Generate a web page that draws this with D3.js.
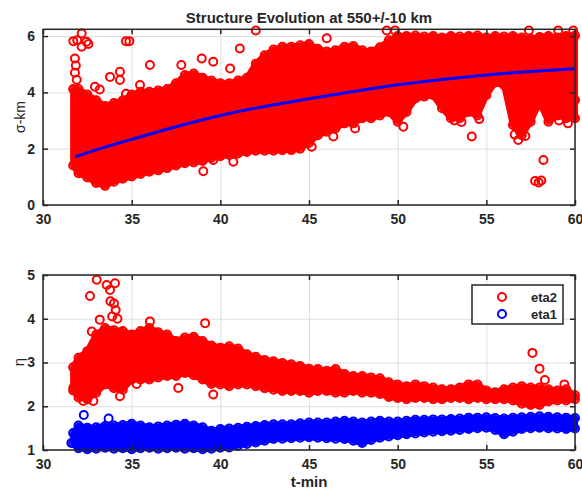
<!DOCTYPE html>
<html>
<head>
<meta charset="utf-8">
<script src="https://cdn.jsdelivr.net/npm/d3@7"></script>
<style>
  body { margin: 0; background: #fff; }
  svg text { font-family: "Liberation Sans", Arial, sans-serif; fill: #262626; }
  .grid line { stroke: #dedede; stroke-width: 1; }
  .grid path { display: none; }
  .frame path, .frame line { stroke: #262626; stroke-width: 1.5; }
  .frame text { font-size: 14px; font-weight: bold; }
</style>
</head>
<body>
<svg id="chart" width="582" height="494"></svg>
<script>
// time samples (minutes) at which the edges of the dense point clouds were read
var tGrid = [31.7, 32, 32.5, 33, 33.5, 34, 34.5, 35, 35.5, 36, 36.5, 37, 37.5, 38, 38.5, 39, 39.5,
  40, 40.5, 41, 41.5, 42, 42.5, 43, 43.5, 44, 44.5, 45, 45.5, 46, 46.5, 47, 47.5, 48, 48.5, 49, 49.5,
  50, 50.5, 51, 51.5, 52, 52.5, 53, 53.5, 54, 54.5, 55, 55.5, 56, 56.5, 57, 57.5, 58, 58.5, 59, 59.5, 60];

// sigma (km): upper and lower edge points of the red cloud
var sigmaHi = [4.12, 4.12, 3.92, 3.72, 3.52, 3.62, 3.72, 3.92, 4.02, 4.02, 4.07, 4.12, 4.32, 4.62, 4.67, 4.52, 4.42,
  4.32, 4.32, 4.42, 4.52, 5.02, 5.32, 5.52, 5.62, 5.62, 5.67, 5.72, 5.55, 5.45, 5.5, 5.62, 5.65, 5.5, 5.45, 5.6, 5.85,
  6.0, 6.0, 6.02, 5.98, 6.0, 5.95, 6.0, 5.98, 6.0, 6.02, 5.95, 6.0, 5.98, 6.0, 5.95, 5.9, 5.97, 6.0, 5.95, 6.0, 6.02];
var sigmaLo = [1.4, 1.13, 0.98, 0.78, 0.68, 0.83, 0.93, 1.01, 1.1, 1.18, 1.23, 1.31, 1.4, 1.48, 1.51, 1.56, 1.68,
  1.73, 1.78, 1.83, 1.88, 1.93, 1.93, 1.93, 1.95, 1.95, 2.0, 2.2, 2.48, 2.6, 2.73, 2.9, 2.9, 3.08, 3.08, 3.18, 3.3,
  2.96, 3.3, 3.78, 3.85, 3.9, 3.44, 3.08, 3.08, 3.3, 3.18, 3.9, 4.35, 4.25, 2.84, 2.48, 2.96, 3.66, 2.96, 3.18, 3.08, 3.08];
// sigma points lying away from the cloud [t, sigma]
var sigmaOut = [[31.71, 5.82], [31.93, 5.85], [32.18, 6.09], [32.18, 5.62], [32.45, 5.8], [32.56, 5.72],
  [34.68, 5.82], [34.87, 5.82], [36.03, 4.97], [31.8, 5.2], [31.85, 4.95], [31.8, 4.7], [31.9, 4.45],
  [33.78, 4.55], [34.34, 4.73], [34.34, 4.44], [34.68, 3.95], [35.47, 4.26], [32.93, 4.2], [33.2, 4.1],
  [37.8, 4.97], [38.95, 5.2], [39.6, 5.09], [40.55, 4.85], [41.1, 5.56], [42.0, 6.2],
  [39.04, 1.2], [39.6, 1.6], [40.73, 1.54], [46.0, 5.92], [49.38, 6.2], [49.85, 6.2],
  [54.18, 2.43], [56.8, 2.31], [58.22, 1.6], [57.75, 0.85], [57.95, 0.8], [58.1, 0.87],
  [45.15, 2.07], [46.37, 2.43], [47.6, 2.72], [50.32, 2.78], [53.2, 3.0], [53.6, 2.95], [54.6, 3.05],
  [59.1, 3.0], [59.6, 2.9], [60, 3.73], [59.9, 6.2], [59.05, 6.2], [57.4, 6.2], [56.6, 2.5], [56.9, 2.6], [57.2, 2.45]];

// fitted trend of sigma
var fitT = [31.8, 33, 35, 37.5, 40, 42.5, 45, 47.5, 50, 52.5, 55, 57.5, 60];
var fitV = [1.71, 1.96, 2.33, 2.78, 3.18, 3.5, 3.77, 4.03, 4.27, 4.46, 4.62, 4.74, 4.84];

// eta2 / eta1 edge points
var eta2Hi = [2.89, 3.11, 3.26, 3.64, 3.79, 3.74, 3.72, 3.64, 3.72, 3.79, 3.69, 3.64, 3.49, 3.57, 3.59, 3.49, 3.39,
  3.34, 3.37, 3.32, 3.19, 3.13, 3.06, 3.03, 2.99, 2.96, 2.92, 2.86, 2.85, 2.81, 2.85, 2.74, 2.69, 2.69, 2.66, 2.64, 2.55,
  2.5, 2.46, 2.5, 2.46, 2.43, 2.39, 2.39, 2.43, 2.5, 2.5, 2.36, 2.32, 2.39, 2.43, 2.46, 2.43, 2.43, 2.39, 2.36, 2.39, 2.25];
var eta2Lo = [2.36, 2.2, 2.16, 2.31, 2.5, 2.41, 2.38, 2.61, 2.61, 2.61, 2.66, 2.69, 2.69, 2.76, 2.71, 2.61, 2.51,
  2.5, 2.46, 2.5, 2.5, 2.46, 2.41, 2.38, 2.35, 2.35, 2.35, 2.31, 2.35, 2.35, 2.31, 2.31, 2.35, 2.31, 2.31, 2.28, 2.21,
  2.19, 2.16, 2.19, 2.19, 2.16, 2.16, 2.19, 2.19, 2.16, 2.19, 2.16, 2.16, 2.16, 2.13, 2.06, 2.03, 2.03, 2.11, 2.13, 2.13, 2.16];
var eta1Hi = [1.39, 1.56, 1.51, 1.52, 1.55, 1.56, 1.57, 1.6, 1.56, 1.52, 1.54, 1.56, 1.58, 1.6, 1.56, 1.52, 1.44,
  1.48, 1.49, 1.51, 1.53, 1.55, 1.57, 1.59, 1.59, 1.59, 1.61, 1.63, 1.63, 1.63, 1.65, 1.67, 1.65, 1.63, 1.65, 1.67, 1.65,
  1.65, 1.67, 1.69, 1.69, 1.7, 1.7, 1.71, 1.72, 1.74, 1.74, 1.75, 1.73, 1.72, 1.74, 1.75, 1.76, 1.77, 1.76, 1.75, 1.74, 1.73];
var eta1Lo = [1.16, 1.04, 1.02, 1.03, 1.05, 1.03, 1.04, 1.02, 1.04, 1.05, 1.03, 1.04, 1.05, 1.03, 1.04, 1.02, 1.03,
  1.05, 1.06, 1.1, 1.14, 1.17, 1.21, 1.25, 1.26, 1.27, 1.28, 1.29, 1.28, 1.27, 1.26, 1.25, 1.21, 1.16, 1.23, 1.28, 1.31,
  1.34, 1.36, 1.38, 1.4, 1.42, 1.43, 1.44, 1.46, 1.48, 1.5, 1.51, 1.46, 1.36, 1.42, 1.48, 1.5, 1.51, 1.5, 1.49, 1.48, 1.49];
var eta2Out = [[33.03, 4.89], [33.59, 4.77], [34.06, 4.81], [33.78, 4.66], [32.65, 4.52], [33.8, 4.4], [34.0, 4.35],
  [34.1, 4.2], [33.9, 4.05], [34.2, 4.0], [33.2, 3.98], [32.75, 3.71], [39.14, 3.9], [36.03, 3.94],
  [31.71, 2.42], [32.27, 2.12], [32.84, 2.12], [34.34, 2.23], [37.63, 2.42], [39.6, 2.27], [35.28, 2.51],
  [57.6, 3.22], [58.0, 2.86], [58.3, 2.6], [59.4, 2.5]];
var eta1Out = [[32.3, 1.8], [31.6, 1.16], [33.7, 1.72]];

var xTicks = [30, 35, 40, 45, 50, 55, 60];
var sigmaTicks = [0, 2, 4, 6];
var etaTicks = [1, 2, 3, 4, 5];
var legendNames = ['eta2', 'eta1'];

var RED = '#ff0000', BLUE = '#0000ff';

var svg = d3.select('#chart');
var x = d3.scaleLinear().domain([30, 60]).range([43, 575]);
var yTop = d3.scaleLinear().domain([0, 6.24]).range([205, 29.3]);
var yBot = d3.scaleLinear().domain([1, 5]).range([450, 275]);
var fmt = d3.format('d');

/**
 * Light grid lines behind one panel.
 */
function grid(y, yTickVals) {
  var y0 = y.range()[0], y1 = y.range()[1];
  var g = svg.append('g');

  g.append('g').attr('class', 'grid')
    .attr('transform', 'translate(0,' + y0 + ')')
    .call(d3.axisBottom(x).tickValues(xTicks).tickSize(-(y0 - y1)).tickFormat(''));
  g.append('g').attr('class', 'grid')
    .attr('transform', 'translate(' + x.range()[0] + ',0)')
    .call(d3.axisLeft(y).tickValues(yTickVals).tickSize(-(x.range()[1] - x.range()[0])).tickFormat(''));
}

/**
 * Box, inward ticks and tick labels on top of one panel.
 */
function box(y, yTickVals) {
  var y0 = y.range()[0], y1 = y.range()[1];
  var g = svg.append('g').attr('class', 'frame');
  g.append('g').attr('transform', 'translate(0,' + y0 + ')')
    .call(d3.axisBottom(x).tickValues(xTicks).tickSize(-5).tickPadding(9).tickFormat(fmt));
  g.append('g').attr('transform', 'translate(0,' + y1 + ')')
    .call(d3.axisTop(x).tickValues(xTicks).tickSize(-5).tickFormat(''));
  g.append('g').attr('transform', 'translate(' + x.range()[0] + ',0)')
    .call(d3.axisLeft(y).tickValues(yTickVals).tickSize(-5).tickPadding(8).tickFormat(fmt));
  g.append('g').attr('transform', 'translate(' + x.range()[1] + ',0)')
    .call(d3.axisRight(y).tickValues(yTickVals).tickSize(-5).tickFormat(''));
  g.selectAll('.domain').remove();
  g.append('rect')
    .attr('x', x.range()[0]).attr('y', y1)
    .attr('width', x.range()[1] - x.range()[0]).attr('height', y0 - y1)
    .attr('fill', 'none').attr('stroke', '#262626').attr('stroke-width', 1.5);
}

/**
 * Dense cloud: filled core between the edge points, with the edge points
 * and stray points drawn as open circles.
 */
function cloud(y, hi, lo, out, color) {
  var g = svg.append('g');
  var idx = d3.range(tGrid.length);
  g.append('path')
    .datum(idx)
    .attr('fill', color)
    .attr('stroke', color)
    .attr('stroke-width', 6)
    .attr('stroke-linejoin', 'round')
    .attr('d', d3.area()
      .x(function (i) { return x(tGrid[i]); })
      .y0(function (i) { return y(lo[i]); })
      .y1(function (i) { return y(hi[i]); }));

  var pts = idx.map(function (i) { return [tGrid[i], hi[i]]; })
    .concat(idx.map(function (i) { return [tGrid[i], lo[i]]; }))
    .concat(out);
  g.selectAll('circle').data(pts).enter().append('circle')
    .attr('cx', function (d) { return x(d[0]); })
    .attr('cy', function (d) { return y(d[1]); })
    .attr('r', 4)
    .attr('fill', 'none')
    .attr('stroke', color)
    .attr('stroke-width', 2);
}

// ---- top panel
grid(yTop, sigmaTicks);
cloud(yTop, sigmaHi, sigmaLo, sigmaOut, RED);
svg.append('path')
  .datum(d3.range(fitT.length))
  .attr('fill', 'none')
  .attr('stroke', BLUE)
  .attr('stroke-width', 3)
  .attr('d', d3.line()
    .curve(d3.curveMonotoneX)
    .x(function (i) { return x(fitT[i]); })
    .y(function (i) { return yTop(fitV[i]); }));
box(yTop, sigmaTicks);

svg.append('text')
  .attr('x', 309).attr('y', 23)
  .attr('text-anchor', 'middle')
  .style('font-size', '15px').style('font-weight', 'bold')
  .text('Structure Evolution at 550+/-10 km');

svg.append('text')
  .attr('transform', 'translate(25,117) rotate(-90)')
  .attr('text-anchor', 'middle')
  .style('font-size', '14px')
  .text('σ-km');

// ---- bottom panel
grid(yBot, etaTicks);
cloud(yBot, eta2Hi, eta2Lo, eta2Out, RED);
cloud(yBot, eta1Hi, eta1Lo, eta1Out, BLUE);
box(yBot, etaTicks);

svg.append('text')
  .attr('transform', 'translate(24,362) rotate(-90)')
  .attr('text-anchor', 'middle')
  .style('font-size', '15px')
  .text('η');

svg.append('text')
  .attr('x', 309).attr('y', 487)
  .attr('text-anchor', 'middle')
  .style('font-size', '15px').style('font-weight', 'bold')
  .text('t-min');

// legend
var leg = svg.append('g').attr('transform', 'translate(472,285)');
leg.append('rect')
  .attr('width', 91).attr('height', 39)
  .attr('fill', '#fff').attr('stroke', '#262626').attr('stroke-width', 1.5);
leg.selectAll('g.item').data(legendNames).enter().append('g')
  .attr('class', 'item')
  .attr('transform', function (d, i) { return 'translate(0,' + (12 + i * 17) + ')'; })
  .each(function (d, i) {
    var it = d3.select(this);
    it.append('circle')
      .attr('cx', 30).attr('r', 4)
      .attr('fill', 'none')
      .attr('stroke', i === 0 ? RED : BLUE)
      .attr('stroke-width', 2);
    it.append('text')
      .attr('x', 85).attr('dy', '0.35em')
      .attr('text-anchor', 'end')
      .style('font-size', '13px').style('font-weight', 'bold')
      .text(d);
  });
</script>
</body>
</html>
